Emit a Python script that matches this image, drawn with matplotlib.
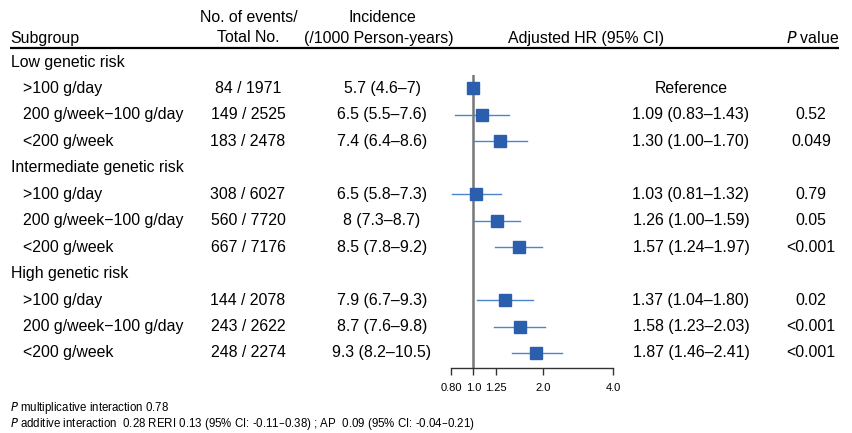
import matplotlib
matplotlib.use("Agg")
import matplotlib.pyplot as plt
import numpy as np

plt.rcParams['font.family'] = ['Liberation Sans', 'DejaVu Sans']

# ---------------- data ----------------
groups = ["Low genetic risk", "Intermediate genetic risk", "High genetic risk"]
levels = [">100 g/day", "200 g/week\u2212100 g/day", "<200 g/week"]
events = ["84 / 1971", "149 / 2525", "183 / 2478",
          "308 / 6027", "560 / 7720", "667 / 7176",
          "144 / 2078", "243 / 2622", "248 / 2274"]
incidence = ["5.7 (4.6\u20137)", "6.5 (5.5\u20137.6)", "7.4 (6.4\u20138.6)",
             "6.5 (5.8\u20137.3)", "8 (7.3\u20138.7)", "8.5 (7.8\u20139.2)",
             "7.9 (6.7\u20139.3)", "8.7 (7.6\u20139.8)", "9.3 (8.2\u201310.5)"]
hr = [1.00, 1.09, 1.30, 1.03, 1.26, 1.57, 1.37, 1.58, 1.87]
lo = [np.nan, 0.83, 1.00, 0.81, 1.00, 1.24, 1.04, 1.23, 1.46]
hi = [np.nan, 1.43, 1.70, 1.32, 1.59, 1.97, 1.80, 2.03, 2.41]
hr_text = ["Reference", "1.09 (0.83\u20131.43)", "1.30 (1.00\u20131.70)",
           "1.03 (0.81\u20131.32)", "1.26 (1.00\u20131.59)", "1.57 (1.24\u20131.97)",
           "1.37 (1.04\u20131.80)", "1.58 (1.23\u20132.03)", "1.87 (1.46\u20132.41)"]
pvals = ["", "0.52", "0.049", "0.79", "0.05", "<0.001", "0.02", "<0.001", "<0.001"]
xticks = [0.80, 1.0, 1.25, 2.0, 4.0]
xticklabels = ["0.80", "1.0", "1.25", "2.0", "4.0"]

# ---------------- layout ----------------
W, H = 852, 433
fig = plt.figure(figsize=(W / 100, H / 100), dpi=100)

row0, pitch = 62.0, 26.45
def rowy(i):
    return row0 + pitch * i

# text layer in pixel coordinates
bg = fig.add_axes([0, 0, 1, 1])
bg.set_xlim(0, W)
bg.set_ylim(H, 0)
bg.axis('off')

FS = 11.4
bg.text(10, 38, "Subgroup", fontsize=FS, ha='left', va='center')
bg.text(249, 18, "No. of events/", fontsize=FS, ha='center', va='center')
bg.text(248, 38, "Total No.", fontsize=FS, ha='center', va='center')
bg.text(382, 18, "Incidence", fontsize=FS, ha='center', va='center')
bg.text(379, 38, "(/1000 Person-years)", fontsize=FS, ha='center', va='center')
bg.text(586, 38, "Adjusted HR (95% CI)", fontsize=FS, ha='center', va='center')
bg.text(839, 38, "$\\it{P}$ value", fontsize=FS, ha='right', va='center')
bg.plot([10, 839], [48, 48], color='black', lw=1.6, solid_capstyle='butt')

k = 0
for g, gname in enumerate(groups):
    gi = g * 4
    bg.text(11, rowy(gi), gname, fontsize=FS, ha='left', va='center')
    for j, lev in enumerate(levels):
        i = gi + 1 + j
        y = rowy(i)
        bg.text(23, y, lev, fontsize=FS, ha='left', va='center')
        bg.text(248, y, events[k], fontsize=FS, ha='center', va='center')
        bg.text(382, y, incidence[k], fontsize=FS, ha='center', va='center')
        bg.text(691, y, hr_text[k], fontsize=FS, ha='center', va='center')
        if pvals[k]:
            bg.text(811, y, pvals[k], fontsize=FS, ha='center', va='center')
        k += 1

FS2 = 8.3
bg.text(10, 408, "$\\it{P}$ multiplicative interaction 0.78", fontsize=FS2, ha='left', va='center')
bg.text(10, 424, "$\\it{P}$ additive interaction  0.28 RERI 0.13 (95% CI: -0.11\u20130.38) ; AP  0.09 (95% CI: -0.04\u20130.21)",
        fontsize=FS2, ha='left', va='center')

# forest axes
x_l, x_r = 451, 613
y_top, y_bot = 75, 368
ax = fig.add_axes([x_l / W, 1 - y_bot / H, (x_r - x_l) / W, (y_bot - y_top) / H])
ax.set_xscale('log')
ax.set_xlim(0.80, 4.0)
ax.set_ylim((y_bot - row0) / pitch, (y_top - row0) / pitch)
ax.patch.set_alpha(0)
for s in ['top', 'right', 'left']:
    ax.spines[s].set_visible(False)
ax.spines['bottom'].set_color('#333333')
ax.spines['bottom'].set_linewidth(1.0)
ax.set_yticks([])
ax.set_xticks(xticks)
ax.set_xticklabels(xticklabels, fontsize=8.0)
ax.xaxis.set_minor_locator(matplotlib.ticker.NullLocator())
ax.tick_params(axis='x', direction='out', length=5, width=1.0, color='#333333', pad=6)

ax.axvline(1.0, color='#777777', lw=1.8, zorder=1)

rows_idx = [g * 4 + 1 + j for g in range(3) for j in range(3)]
for r, h, l, u in zip(rows_idx, hr, lo, hi):
    if not np.isnan(l):
        ax.plot([l, u], [r, r], color='#4a86cc', lw=1.0, zorder=2, clip_on=False)
    ax.plot([h], [r], marker='s', markersize=8.2, color='#2b5fae',
            markeredgecolor='#2b5fae', zorder=3, clip_on=False)

fig.savefig("out.png", dpi=100)
